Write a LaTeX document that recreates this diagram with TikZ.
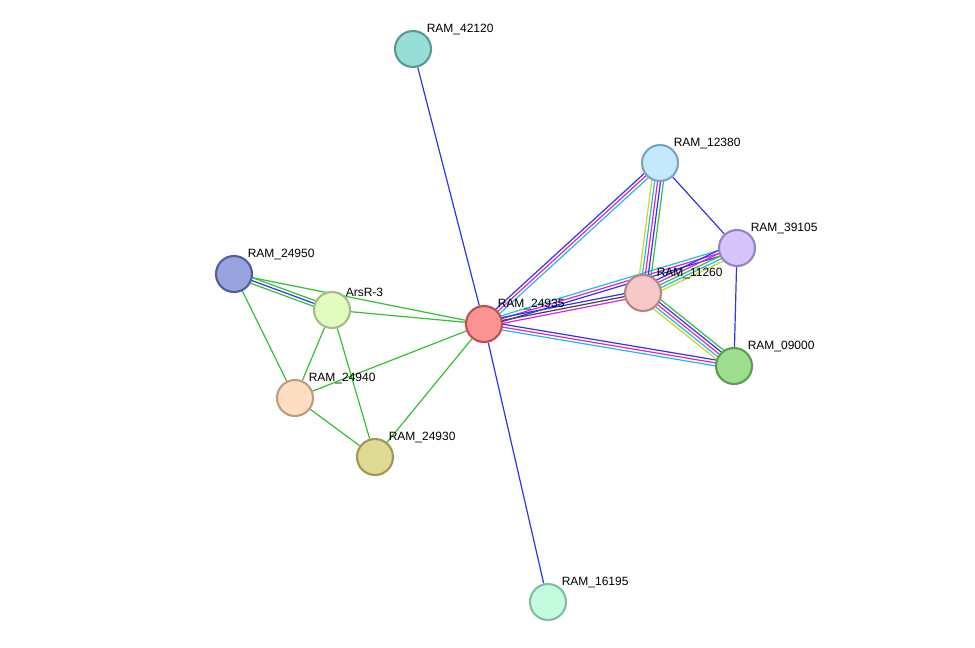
\documentclass[tikz,border=0pt]{standalone}
\usepackage{fontspec}
\setmainfont{Liberation Sans}
\usetikzlibrary{calc, backgrounds}
\tikzset{>=latex}
\definecolor{ecyan}{HTML}{22BBDD}
\definecolor{emag}{HTML}{DD22DD}
\definecolor{eblue}{HTML}{3333EE}
\definecolor{egreen}{HTML}{33C033}
\definecolor{eyel}{HTML}{C8D822}
\definecolor{egrey}{HTML}{444444}
% node fill / border pairs
\definecolor{f42120}{HTML}{97DFD6}\definecolor{d42120}{HTML}{5A9A94}
\definecolor{f12380}{HTML}{C4E9FD}\definecolor{d12380}{HTML}{7BA6C2}
\definecolor{f39105}{HTML}{D5C4FA}\definecolor{d39105}{HTML}{9584C8}
\definecolor{f11260}{HTML}{F6C8C8}\definecolor{d11260}{HTML}{B98686}
\definecolor{f24935}{HTML}{FD9494}\definecolor{d24935}{HTML}{C05050}
\definecolor{f09000}{HTML}{9EDE8F}\definecolor{d09000}{HTML}{5F9C53}
\definecolor{f24950}{HTML}{98A3E0}\definecolor{d24950}{HTML}{535D9E}
\definecolor{farsR}{HTML}{E2FCC0}\definecolor{darsR}{HTML}{A2BD85}
\definecolor{f24940}{HTML}{FEDEC2}\definecolor{d24940}{HTML}{BF9D80}
\definecolor{f24930}{HTML}{DFDB96}\definecolor{d24930}{HTML}{9E9A55}
\definecolor{f16195}{HTML}{C4FCE0}\definecolor{d16195}{HTML}{80C0A0}
\tikzset{
  prot/.style={circle, draw=d#1, fill=f#1, line width=1.6pt, minimum size=36*0.75pt, inner sep=0pt},
  lbl/.style={anchor=south west, inner sep=0pt, font=\fontsize{9}{10}\selectfont},
  edge/.style={line width=0.9pt}
}
% parallel strands between two nodes
\newcommand\multiedge[3]{%
  \foreach \c [count=\k] in {#3} {\xdef\nstrand{\k}}%
  \foreach \c [count=\k] in {#3} {
    \pgfmathsetmacro\off{(\k-(\nstrand+1)/2)*2.2}
    \draw[edge, \c] ($(#1)!\off pt!90:(#2)$) -- ($(#2)!\off pt!-90:(#1)$);
  }%
}
\begin{document}
\begin{tikzpicture}[x=0.75pt, y=-0.75pt]
\useasboundingbox (0,0) rectangle (975,648);

\node[prot=42120, label={[lbl]45:RAM\_42120}] (r42120) at (413,49) {};
\node[prot=12380, label={[lbl]45:RAM\_12380}] (r12380) at (660,163) {};
\node[prot=39105, label={[lbl]45:RAM\_39105}] (r39105) at (737,248) {};
\node[prot=11260, label={[lbl]45:RAM\_11260}] (r11260) at (643,293) {};
\node[prot=24935, label={[lbl]45:RAM\_24935}] (r24935) at (484,324) {};
\node[prot=09000, label={[lbl]45:RAM\_09000}] (r09000) at (734,366) {};
\node[prot=24950, label={[lbl]45:RAM\_24950}] (r24950) at (234,274) {};
\node[prot=arsR, label={[lbl]45:ArsR-3}] (arsR) at (332,310) {};
\node[prot=24940, label={[lbl]45:RAM\_24940}] (r24940) at (295,398) {};
\node[prot=24930, label={[lbl]45:RAM\_24930}] (r24930) at (375,457) {};
\node[prot=16195, label={[lbl]45:RAM\_16195}] (r16195) at (548,602) {};

\begin{scope}[on background layer]
  % single evidence links
  \draw[edge, eblue] (r24935) -- (r42120);
  \draw[edge, eblue] (r24935) -- (r16195);
  \draw[edge, eblue] (r12380) -- (r39105);
  \draw[edge, eblue] (r39105) -- (r09000);
  \foreach \a/\b in {r24950/r24935, r24950/r24940, arsR/r24935, arsR/r24940,
                     arsR/r24930, r24940/r24935, r24940/r24930, r24930/r24935}
    \draw[edge, egreen] (\a) -- (\b);
  \multiedge{r24950}{arsR}{egreen,eblue,egreen}
  % right cluster
  \multiedge{r24935}{r12380}{ecyan,emag,eblue}
  \multiedge{r24935}{r39105}{eblue,emag,ecyan}
  \multiedge{r24935}{r11260}{emag,egrey,eblue}
  \multiedge{r24935}{r09000}{ecyan,emag,eblue}
  \multiedge{r12380}{r11260}{eyel,ecyan,emag,eblue,egreen}
  \multiedge{r39105}{r11260}{eblue,emag,egreen,ecyan,eyel}
  \multiedge{r11260}{r09000}{eyel,ecyan,emag,eblue,egreen}
\end{scope}
\end{tikzpicture}
\end{document}
